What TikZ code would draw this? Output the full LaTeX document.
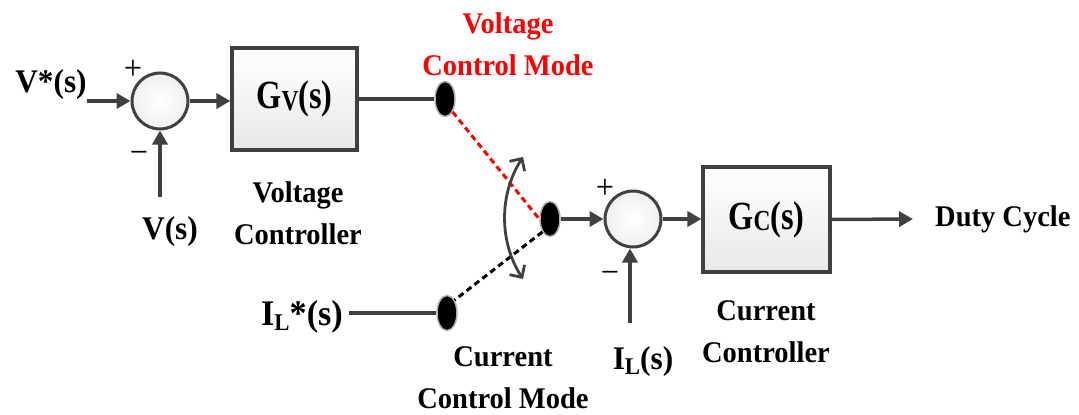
\documentclass[tikz,border=0pt]{standalone}
\usepackage{fontspec}
\setmainfont{Liberation Serif}[FakeStretch=0.95]
\usetikzlibrary{arrows.meta,shapes.geometric}
\definecolor{ln}{HTML}{404040}
\definecolor{vred}{HTML}{FF0000}
\newcommand{\sublow}[1]{\raisebox{-0.3ex}{\fontsize{24}{24}\selectfont #1}}
\begin{document}
\begin{tikzpicture}[x=1pt,y=-1pt,
  txt/.style={font=\fontsize{30}{42}\selectfont\bfseries, inner sep=0pt, align=center, text=black},
  sig/.style={font=\fontsize{33}{40}\selectfont\bfseries, inner sep=0pt, text=black},
  sgn/.style={font=\fontsize{34}{34}\selectfont, inner sep=0pt, text=black},
  blk/.style={draw=ln, line width=3.2pt, top color=white, bottom color=gray!18, minimum width=125pt, minimum height=102pt, inner sep=0pt},
  sumj/.style={circle, draw=ln, line width=3pt, inner color=white, outer color=gray!12, minimum size=56pt, inner sep=0pt},
  sdot/.style={ellipse, fill=black, draw=gray!60, line width=1.5pt, minimum width=20pt, minimum height=35pt, inner sep=0pt},
  wire/.style={draw=ln, line width=3.5pt},
  arr/.style={wire, -{Triangle[length=14pt,width=15pt]}},
  swarr/.style={draw=ln, line width=2.8pt, {Straight Barb[length=9pt,width=18pt]}-{Straight Barb[length=9pt,width=18pt]}},
  dsh/.style={line width=3pt, dash pattern=on 6pt off 4pt}
]
\useasboundingbox (0,0) rectangle (1079,415);

% nodes
\node[sig] (vref) at (51,85) {V*(s)};
\node[sumj] (s1) at (160,101) {};
\node[sgn] (p1) at (133,70) {+};
\node[sgn] (m1) at (139,157) {−};
\node[sig] (vs) at (170,232) {V(s)};
\coordinate (vsin) at (160,197);
\node[blk] (gv) at (294.5,99) {\scalebox{0.85}[1]{\fontsize{40}{40}\selectfont\bfseries G\raisebox{-0.1ex}{\fontsize{29}{29}\selectfont V}(s)}};
\node[txt] (vcl) at (298,213) {Voltage\\Controller};
\node[sdot] (d1) at (445,99) {};
\node[txt, text=vred] (vcm) at (508,44) {Voltage\\Control Mode};
\node[sdot] (d2) at (550,219) {};
\node[sdot] (d3) at (447,313) {};
\node[sig, font=\fontsize{36}{40}\selectfont\bfseries] (ilref) at (302,317) {I\sublow{L}*(s)};
\node[txt] (ccm) at (503,378) {Current\\Control Mode};
\node[sumj] (s2) at (633,219) {};
\node[sgn] (p2) at (605,189) {+};
\node[sgn] (m2) at (610,277) {−};
\coordinate (ilin) at (630,323);
\node[sig] (il) at (643,362) {I\sublow{L}(s)};
\node[blk, minimum width=127pt, minimum height=105pt] (gc) at (766.5,219.5) {\scalebox{0.85}[1]{\fontsize{40}{40}\selectfont\bfseries G\raisebox{-0.1ex}{\fontsize{29}{29}\selectfont C}(s)}};
\node[txt] (ccl) at (766,332) {Current\\Controller};
\coordinate (dout) at (913,219);
\node[txt, anchor=west] (duty) at (935,219) {Duty Cycle};
\coordinate (arcT) at (523,157);
\coordinate (arcB) at (523,279);

% connectors
\draw[arr] (s1.west -| vref.east) -- (s1.west);
\draw[arr] (vsin) -- (s1.south);
\draw[arr] (s1.east) -- (gv.west |- s1.east);
\draw[wire] (gv.east) -- (d1.west);
\draw[wire] (ilref.east |- d3.west) ++(6,0) -- (d3.west);
\draw[vred, dsh] (d1.south east) -- (d2.west);
\draw[black, dsh] (d2.south west) -- (d3.north east);
\draw[swarr] (arcT) .. controls (499,194) and (499,242) .. (arcB);
\draw[arr] (d2.east) -- (s2.west);
\draw[arr] (ilin) -- (ilin |- s2.south);
\draw[arr] (s2.east) -- (gc.west |- s2.east);
\draw[arr] (gc.east) -- (dout);
\end{tikzpicture}
\end{document}
